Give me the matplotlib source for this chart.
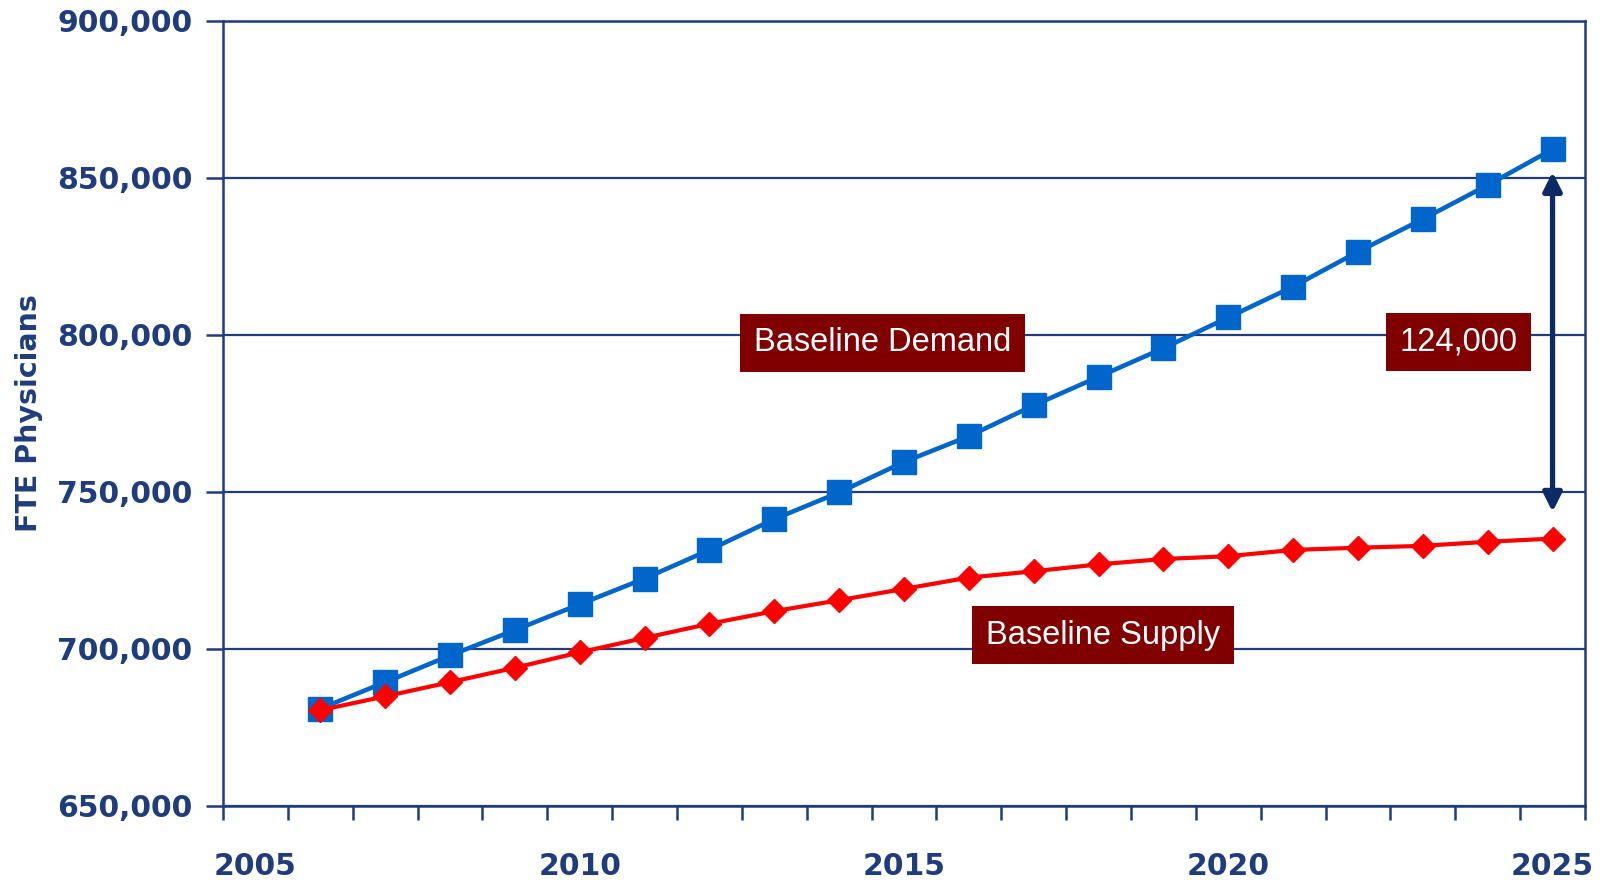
import matplotlib.pyplot as plt
import numpy as np
from matplotlib.ticker import FuncFormatter, FixedLocator

years = list(range(2006, 2026))
demand = [681000, 689400, 697900, 706000, 714200, 722400, 731500, 741300, 749800, 759500,
          767700, 777500, 786600, 795700, 805500, 815300, 826400, 836800, 847600, 859000]
supply = [680500, 684900, 689400, 694000, 698900, 703500, 708000, 712000, 715500, 719100,
          722700, 724700, 726900, 728600, 729500, 731500, 732200, 732800, 734100, 735100]
year_labels = [2005, 2010, 2015, 2020, 2025]
y_ticks = [650000, 700000, 750000, 800000, 850000, 900000]
gap_label = "124,000"

navy = "#1f3c7c"
box_red = "#800000"

fig = plt.figure(figsize=(16.06, 8.8), dpi=100)
ax = fig.add_axes([0.1389, 0.0841, 0.848, 0.8926])

ax.plot(years, demand, color="#0066cc", lw=3.3, marker="s", ms=17, zorder=4)
ax.plot(years, supply, color="#ff0000", lw=3, marker="D", ms=12, zorder=4)

ax.set_xlim(2004.5, 2025.5)
ax.set_ylim(650000, 900000)
ax.set_yticks(y_ticks)
ax.yaxis.set_major_formatter(FuncFormatter(lambda v, p: f"{int(v):,}"))
ax.set_xticks(year_labels)
ax.xaxis.set_minor_locator(FixedLocator(np.arange(2004.5, 2026, 1.0)))
ax.tick_params(axis="x", which="major", length=0, pad=33)
ax.tick_params(axis="x", which="minor", length=10, width=1.8, color=navy, direction="out")
ax.tick_params(axis="y", length=12, width=1.8, color=navy, direction="out", pad=10)
for lab in ax.get_xticklabels() + ax.get_yticklabels():
    lab.set_fontweight("bold")
    lab.set_fontsize(21.5)
    lab.set_color(navy)
    lab.set_family("DejaVu Sans")

ax.grid(axis="y", color=navy, lw=1.6)
ax.set_axisbelow(True)
for s in ax.spines.values():
    s.set_color(navy)
    s.set_linewidth(1.8)

ax.set_ylabel("FTE Physicians", fontsize=20.5, fontweight="bold", color=navy, labelpad=10)

# gap arrow
ax.annotate("", xy=(2025, 743600), xytext=(2025, 851800),
            arrowprops=dict(arrowstyle="<|-|>", color="#0b2a66", lw=3.8,
                            mutation_scale=28, shrinkA=0, shrinkB=0), zorder=3)

box = dict(boxstyle="square,pad=0.42", fc=box_red, ec="none")
for tx, ty, txt in [(2014.67, 797400, "Baseline Demand"),
                    (2018.07, 704400, "Baseline Supply"),
                    (2023.55, 797700, gap_label)]:
    ax.text(tx, ty, txt, fontsize=23.5, color="white", ha="center", va="center",
            family="Liberation Sans", bbox=box, zorder=5)

fig.savefig("out.png", dpi=100)
